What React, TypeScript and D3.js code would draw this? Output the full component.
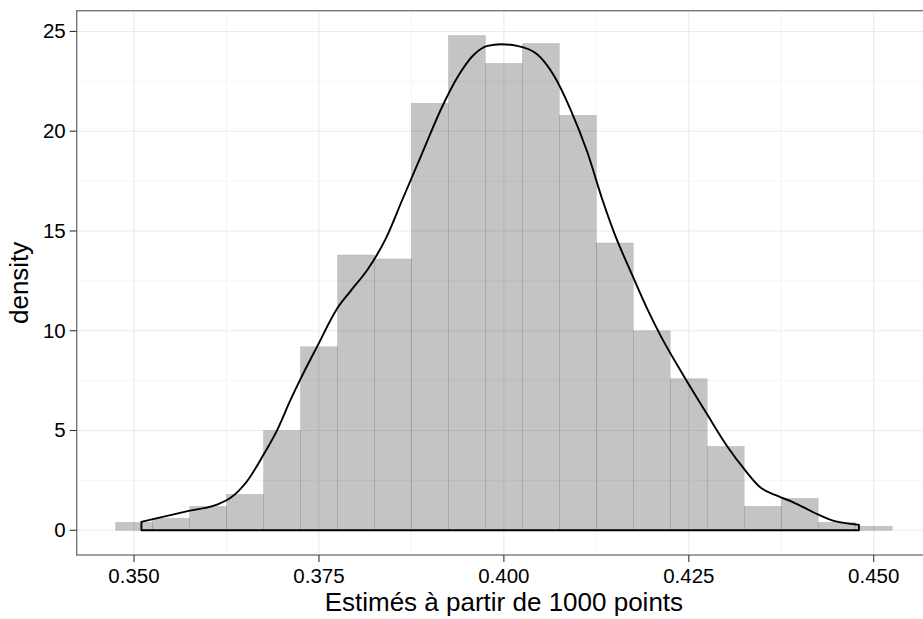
import React from "react";
import * as d3 from "d3";

// Histogram bins (centres) and densities
const binCenters = [0.350, 0.355, 0.360, 0.365, 0.370, 0.375, 0.380, 0.385, 0.390, 0.395, 0.400, 0.405, 0.410, 0.415, 0.420, 0.425, 0.430, 0.435, 0.440, 0.445, 0.450];
const binDensity = [0.4, 0.6, 1.2, 1.8, 5.0, 9.2, 13.8, 13.6, 21.4, 24.8, 23.4, 24.4, 20.8, 14.4, 10.0, 7.6, 4.2, 1.2, 1.6, 0.4, 0.2];
const binWidth = 0.005;

// Kernel density curve
const densX = [0.3510, 0.3574, 0.3613, 0.3631, 0.3653, 0.3674, 0.3694, 0.3712, 0.3724, 0.3748, 0.3774, 0.3793, 0.3816, 0.3840, 0.3863, 0.3888, 0.3915, 0.3937, 0.3960, 0.3978, 0.3996, 0.4018, 0.4045, 0.4068, 0.4090, 0.4113, 0.4133, 0.4149, 0.4174, 0.4194, 0.4212, 0.4245, 0.4275, 0.4303, 0.4325, 0.4347, 0.4370, 0.4392, 0.4419, 0.4446, 0.4473, 0.4480];
const densY = [0.42, 0.97, 1.30, 1.64, 2.47, 3.72, 5.06, 6.57, 7.50, 9.24, 11.08, 12.0, 13.08, 14.59, 16.59, 18.76, 21.10, 22.69, 23.86, 24.28, 24.36, 24.28, 23.86, 22.77, 21.10, 18.93, 16.59, 14.92, 12.75, 11.08, 9.74, 7.62, 5.80, 4.15, 3.06, 2.14, 1.72, 1.39, 0.89, 0.47, 0.30, 0.27];

const xTicks = [0.350, 0.375, 0.400, 0.425, 0.450];
const xMinor = [0.3625, 0.3875, 0.4125, 0.4375];
const yTicks = [0, 5, 10, 15, 20, 25];
const yMinor = [2.5, 7.5, 12.5, 17.5, 22.5];

const xTitle = "Estimés à partir de 1000 points";
const yTitle = "density";

export default function App() {
  const W = 923, H = 619;
  const left = 76.7, top = 10.7, bottom = 555;
  const xLo = binCenters[0] - binWidth / 2;
  const xHi = binCenters[binCenters.length - 1] + binWidth / 2;
  const xPad = (xHi - xLo) * 0.05;
  const yMax = d3.max(binDensity) as number;
  const yPad = yMax * 0.05;
  const pxPerUnit = (873 - 133.3) / 0.1;
  const right = left + (xHi - xLo + 2 * xPad) * pxPerUnit;

  const x = d3.scaleLinear().domain([xLo - xPad, xHi + xPad]).range([left, right]);
  const y = d3.scaleLinear().domain([-yPad, yMax + yPad]).range([bottom, top]);

  const pts: [number, number][] = densX.map((v, i) => [x(v), y(densY[i])]);
  const closed: [number, number][] = [[x(densX[0]), y(0)], ...pts, [x(densX[densX.length - 1]), y(0)]];
  const line = d3.line<[number, number]>().curve(d3.curveMonotoneX);
  const curvePath = line(pts) as string;
  const areaPath =
    "M" + closed[0][0] + "," + closed[0][1] +
    curvePath.replace(/^M/, "L") +
    "L" + closed[closed.length - 1][0] + "," + closed[closed.length - 1][1] + "Z";

  const font = "Liberation Sans, Arial, sans-serif";

  return (
    <svg width={W} height={H} style={{ position: "absolute", left: 0, top: 0, background: "#fff" }}>
      <rect x={0} y={0} width={W} height={H} fill="#fff" />
      <rect x={left} y={top} width={right - left} height={bottom - top} fill="#fff" />
      {yMinor.map((t) => (
        <line key={"ym" + t} x1={left} x2={right} y1={y(t)} y2={y(t)} stroke="#f5f5f5" strokeWidth={1} />
      ))}
      {xMinor.map((t) => (
        <line key={"xm" + t} x1={x(t)} x2={x(t)} y1={top} y2={bottom} stroke="#f5f5f5" strokeWidth={1} />
      ))}
      {yTicks.map((t) => (
        <line key={"yg" + t} x1={left} x2={right} y1={y(t)} y2={y(t)} stroke="#ebebeb" strokeWidth={1.1} />
      ))}
      {xTicks.map((t) => (
        <line key={"xg" + t} x1={x(t)} x2={x(t)} y1={top} y2={bottom} stroke="#ebebeb" strokeWidth={1.1} />
      ))}
      {binCenters.map((c, i) => (
        <rect
          key={"b" + i}
          x={x(c - binWidth / 2)}
          y={y(binDensity[i])}
          width={x(c + binWidth / 2) - x(c - binWidth / 2)}
          height={y(0) - y(binDensity[i])}
          fill="#000"
          fillOpacity={0.23}
          stroke="#000"
          strokeOpacity={0.12}
          strokeWidth={0.7}
        />
      ))}
      <path d={areaPath} fill="none" stroke="#000" strokeWidth={1.9} strokeLinejoin="round" />
      <rect x={left} y={top} width={right - left} height={bottom - top} fill="none" stroke="#6e6e6e" strokeWidth={1.3} />
      {yTicks.map((t) => (
        <g key={"yt" + t}>
          <line x1={left - 7} x2={left} y1={y(t)} y2={y(t)} stroke="#333" strokeWidth={1.1} />
          <text x={left - 11} y={y(t) + 7} textAnchor="end" fontFamily={font} fontSize={20.5} fill="#000">
            {t}
          </text>
        </g>
      ))}
      {xTicks.map((t) => (
        <g key={"xt" + t}>
          <line x1={x(t)} x2={x(t)} y1={bottom} y2={bottom + 7} stroke="#333" strokeWidth={1.1} />
          <text x={x(t)} y={bottom + 28} textAnchor="middle" fontFamily={font} fontSize={20.5} fill="#000">
            {d3.format(".3f")(t)}
          </text>
        </g>
      ))}
      <text x={(left + right) / 2} y={611} textAnchor="middle" fontFamily={font} fontSize={26} fill="#000">
        {xTitle}
      </text>
      <text
        transform={`translate(${28},${(top + bottom) / 2}) rotate(-90)`}
        textAnchor="middle"
        fontFamily={font}
        fontSize={26}
        fill="#000"
      >
        {yTitle}
      </text>
    </svg>
  );
}
